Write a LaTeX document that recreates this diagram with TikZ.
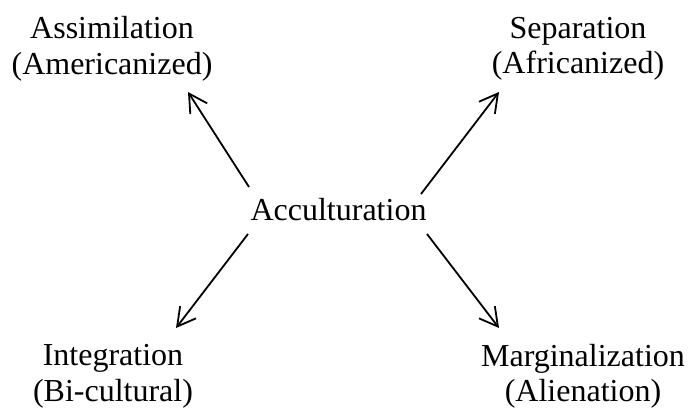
\documentclass[tikz,border=0pt]{standalone}
\usepackage{fontspec}
\setmainfont{Liberation Serif}
\usetikzlibrary{arrows.meta}
\begin{document}
\begin{tikzpicture}[x=0.5pt,y=-0.5pt,line width=0.9pt,
        >={Straight Barb[length=9pt,width=10pt]},
        label/.style={align=center,inner sep=0pt,font=\fontsize{16}{17.75}\selectfont}]
        \useasboundingbox (0,0) rectangle (690,408);
        \node [label,anchor=base] (acc) at (338.5,220) {Acculturation};
        \node [label] (assim) at (112,49) {Assimilation\\(Americanized)};
        \node [label] (sep) at (578,49) {Separation\\(Africanized)};
        \node [label] (integ) at (113,376.5) {Integration\\(Bi-cultural)};
        \node [label] (marg) at (583,376.5) {Marginalization\\(Alienation)};
        % arrow ends
        \coordinate (tailA) at (249,187);
        \coordinate (tailS) at (421,194);
        \coordinate (tailI) at (248,234);
        \coordinate (tailM) at (427,234);
        \coordinate (tipA) at (188,92);
        \coordinate (tipS) at (499,92);
        \coordinate (tipI) at (176,328);
        \coordinate (tipM) at (499,328);
        \draw [->] (tailA) -- (tipA);
        \draw [->] (tailS) -- (tipS);
        \draw [->] (tailI) -- (tipI);
        \draw [->] (tailM) -- (tipM);
\end{tikzpicture}
\end{document}
